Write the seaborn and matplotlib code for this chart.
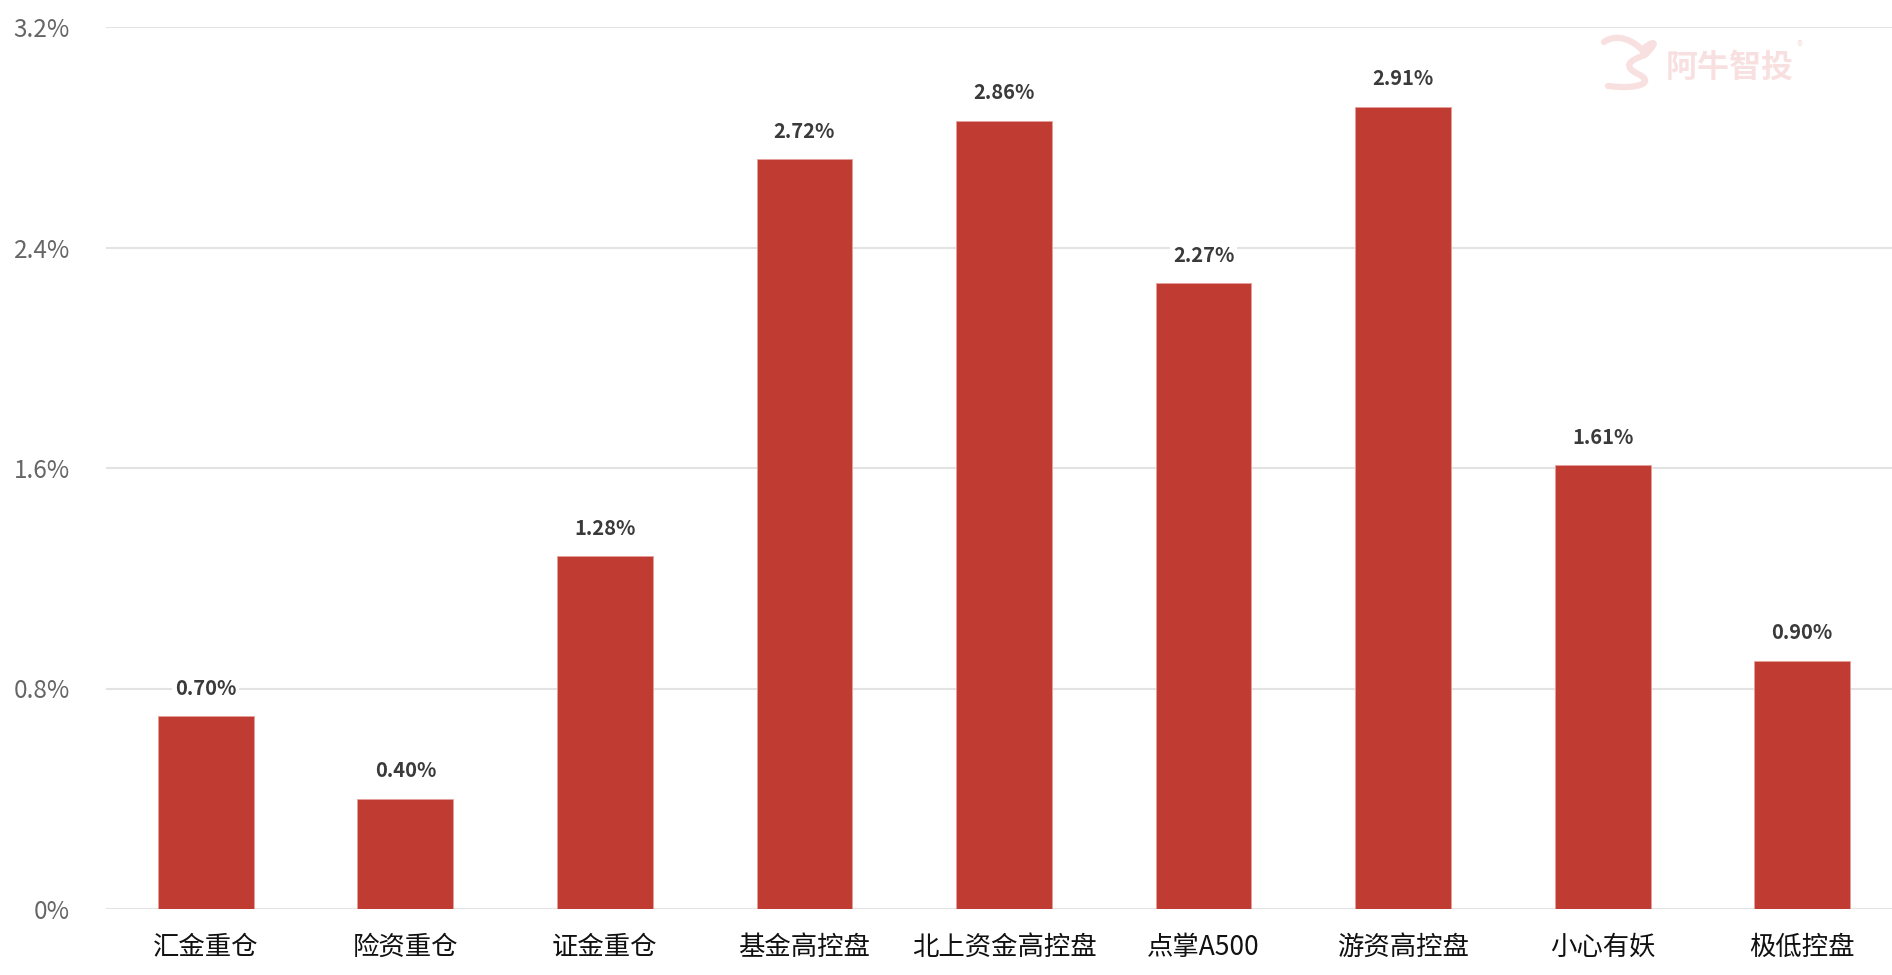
import matplotlib
matplotlib.use("Agg")
import matplotlib.pyplot as plt
import seaborn as sns
import pandas as pd
from matplotlib.ticker import FuncFormatter
from matplotlib.path import Path
from matplotlib.patches import PathPatch

# data
categories = ['汇金重仓', '险资重仓', '证金重仓', '基金高控盘', '北上资金高控盘',
              '点掌A500', '游资高控盘', '小心有妖', '极低控盘']
values = [0.70, 0.40, 1.28, 2.72, 2.86, 2.27, 2.91, 1.61, 0.90]
yticks = [0, 0.8, 1.6, 2.4, 3.2]

df = pd.DataFrame({'cat': categories, 'val': values})

sns.set_theme(style='white')
plt.rcParams['font.family'] = ['Noto Sans CJK SC', 'DejaVu Sans']

fig = plt.figure(figsize=(18.92, 9.75), dpi=100)
ax = fig.add_axes([106 / 1892, 66 / 975, 1796 / 1892, 882 / 975])

sns.barplot(data=df, x='cat', y='val', color='#c03b32', width=0.48,
            edgecolor='#e6a09a', linewidth=0.6, saturation=1, ax=ax, zorder=3)

ax.set_ylim(0, 3.2)
ax.set_xlim(-0.5, len(categories) - 0.5)
ax.set_yticks(yticks)
ax.yaxis.set_major_formatter(FuncFormatter(lambda v, p: '0%' if v == 0 else f'{v:.1f}%'))
ax.grid(axis='y', color='#e3e3e3', linewidth=1.5, zorder=0)
ax.set_axisbelow(True)
for s in ax.spines.values():
    s.set_visible(False)
ax.set_xlabel('')
ax.set_ylabel('')
ax.tick_params(axis='y', length=0, pad=26, labelsize=17.5, labelcolor='#666666')
ax.tick_params(axis='x', length=0, pad=18, labelsize=19, labelcolor='#111111')

for i, v in enumerate(values):
    ax.annotate(f'{v:.2f}%', (i, v), xytext=(0, 28), textcoords='offset pixels',
                ha='center', va='center', fontsize=14.5, fontweight='bold', color='#3a3a3a',
                bbox=dict(boxstyle='square,pad=0.15', fc='white', ec='none'), zorder=5)

# watermark: logo ribbon + text
wm = '#f9e0e0'
W, H = 1892, 975
pts = [(1604, 42), (1618, 32), (1635, 42), (1642, 50),
       (1650, 42), (1662, 38), (1645, 55),
       (1630, 60), (1622, 66), (1638, 74),
       (1655, 82), (1640, 90), (1608, 86)]
verts = [(x / W, 1 - y / H) for x, y in pts]
codes = [Path.MOVETO] + [Path.CURVE4] * 12
fig.add_artist(PathPatch(Path(verts, codes), transform=fig.transFigure,
                         fill=False, ec=wm, lw=4.5, capstyle='round'))
fig.text(1730 / W, 1 - 68 / H, '阿牛智投', ha='center', va='center',
         fontsize=23, color=wm, fontweight='bold')
fig.text(1800 / W, 1 - 47 / H, '®', ha='center', va='center',
         fontsize=9, color=wm)

fig.savefig('out.png', dpi=100)
